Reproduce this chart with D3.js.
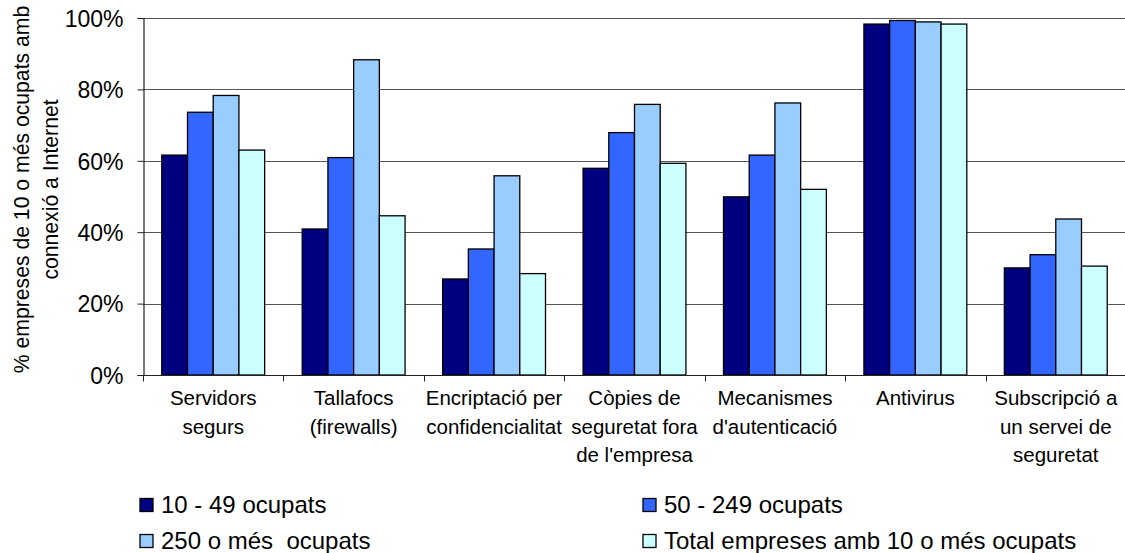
<!DOCTYPE html>
<html>
<head>
    <title>Seguretat</title>
    <script src="https://d3js.org/d3.v7.min.js"></script>
    <style>
        body {
            margin: 0;
            background-color: white;
        }
        svg text {
            font-family: "Liberation Sans", Arial, sans-serif;
            fill: black;
        }
    </style>
</head>
<body>
<div id="chart"></div>
<script>
// data
var categories = [
    ["Servidors", "segurs"],
    ["Tallafocs", "(firewalls)"],
    ["Encriptació per", "confidencialitat"],
    ["Còpies de", "seguretat fora", "de l'empresa"],
    ["Mecanismes", "d'autenticació"],
    ["Antivirus"],
    ["Subscripció a", "un servei de", "seguretat"]
];
var seriesNames = ["10 - 49 ocupats", "50 - 249 ocupats", "250 o més  ocupats", "Total empreses amb 10 o més ocupats"];
var seriesColors = ["#000080", "#3366ff", "#99ccff", "#ccffff"];
var small = [61.6, 40.9, 26.9, 57.9, 49.9, 98.3, 30.0];
var medium = [73.6, 60.9, 35.3, 67.9, 61.6, 99.3, 33.7];
var large = [78.3, 88.3, 55.8, 75.8, 76.2, 98.9, 43.7];
var total = [63.0, 44.6, 28.4, 59.3, 52.0, 98.3, 30.5];
var yTicks = [0, 20, 40, 60, 80, 100];
var yTitle = ["% empreses de 10 o més ocupats amb", "connexió a Internet"];

var width = 1125, height = 553;
var plotLeft = 143, plotRight = 1126, plotTop = 18, plotBottom = 375;

var svg = d3.select("#chart")
    .append("svg")
    .attr("width", width)
    .attr("height", height);

var catKeys = categories.map(function(c) { return c.join(" "); });
var values = [small, medium, large, total];

var x0 = d3.scaleBand()
    .domain(catKeys)
    .range([plotLeft, plotRight])
    .padding(0);

var x1 = d3.scaleBand()
    .domain(seriesNames)
    .range([0, x0.bandwidth()])
    .paddingInner(0)
    .paddingOuter(0.73);

var y = d3.scaleLinear()
    .domain([0, 100])
    .range([plotBottom, plotTop]);

var color = d3.scaleOrdinal()
    .domain(seriesNames)
    .range(seriesColors);

// gridlines
svg.append("g")
    .selectAll("line")
    .data(yTicks.filter(function(d) { return d > 0; }))
    .enter().append("line")
    .attr("x1", plotLeft)
    .attr("x2", plotRight)
    .attr("y1", function(d) { return Math.round(y(d)) + 0.5; })
    .attr("y2", function(d) { return Math.round(y(d)) + 0.5; })
    .attr("stroke", "#555")
    .attr("stroke-width", 1);

// bars
var groups = svg.append("g")
    .selectAll("g")
    .data(catKeys)
    .enter().append("g")
    .attr("transform", function(d) { return "translate(" + x0(d) + ",0)"; });

groups.selectAll("rect")
    .data(function(d, i) {
        return seriesNames.map(function(s, j) { return { key: s, value: values[j][i] }; });
    })
    .enter().append("rect")
    .attr("x", function(d) { return x1(d.key); })
    .attr("y", function(d) { return y(d.value); })
    .attr("width", x1.bandwidth())
    .attr("height", function(d) { return plotBottom - y(d.value); })
    .attr("fill", function(d) { return color(d.key); })
    .attr("stroke", "black")
    .attr("stroke-width", 1.3);

// y axis
var yAxis = svg.append("g")
    .attr("transform", "translate(" + (plotLeft + 0.5) + ",0)")
    .call(d3.axisLeft(y).tickValues(yTicks).tickSize(6).tickPadding(14)
        .tickFormat(function(d) { return d + "%"; }));
yAxis.select(".domain").attr("stroke", "#222").attr("stroke-width", 1.2);
yAxis.selectAll(".tick line").attr("stroke", "#222");
yAxis.selectAll(".tick text")
    .style("font-size", "23px")
    .attr("dy", "0.36em");

// x axis (ticks at category boundaries)
var xAxis = svg.append("g")
    .attr("transform", "translate(0," + (plotBottom + 0.5) + ")");
xAxis.append("line")
    .attr("x1", plotLeft)
    .attr("x2", plotRight)
    .attr("stroke", "#222")
    .attr("stroke-width", 1.2);
xAxis.selectAll(".sep")
    .data(catKeys)
    .enter().append("line")
    .attr("class", "sep")
    .attr("x1", function(d) { return Math.round(x0(d)) + 0.5; })
    .attr("x2", function(d) { return Math.round(x0(d)) + 0.5; })
    .attr("y1", 0)
    .attr("y2", 6)
    .attr("stroke", "#222");

// category labels
var catLabels = svg.append("g")
    .selectAll("text")
    .data(categories)
    .enter().append("text")
    .attr("x", function(d, i) { return x0(catKeys[i]) + x0.bandwidth() / 2; })
    .attr("y", 405)
    .attr("text-anchor", "middle")
    .style("font-size", "20.5px");
catLabels.selectAll("tspan")
    .data(function(d) { return d; })
    .enter().append("tspan")
    .attr("x", function() { return d3.select(this.parentNode).attr("x"); })
    .attr("dy", function(d, i) { return i === 0 ? 0 : 28.5; })
    .text(function(d) { return d; });

// y axis title
var title = svg.append("text")
    .attr("transform", "translate(29," + ((plotTop + plotBottom) / 2 - 7) + ") rotate(-90)")
    .attr("text-anchor", "middle")
    .style("font-size", "21.2px");
title.selectAll("tspan")
    .data(yTitle)
    .enter().append("tspan")
    .attr("x", 0)
    .attr("dy", function(d, i) { return i === 0 ? 0 : 29; })
    .text(function(d) { return d; });

// legend
var legend = svg.append("g")
    .selectAll("g")
    .data(seriesNames)
    .enter().append("g")
    .attr("transform", function(d, i) {
        return "translate(" + (i % 2 === 0 ? 140 : 643) + "," + (i < 2 ? 505 : 541) + ")";
    });

legend.append("rect")
    .attr("x", 0)
    .attr("y", -6.5)
    .attr("width", 13)
    .attr("height", 13)
    .attr("fill", function(d) { return color(d); })
    .attr("stroke", "black")
    .attr("stroke-width", 1.3);

legend.append("text")
    .attr("x", 21)
    .attr("y", 7.5)
    .style("font-size", "24px")
    .style("white-space", "pre")
    .text(function(d) { return d; });
</script>
</body>
</html>
